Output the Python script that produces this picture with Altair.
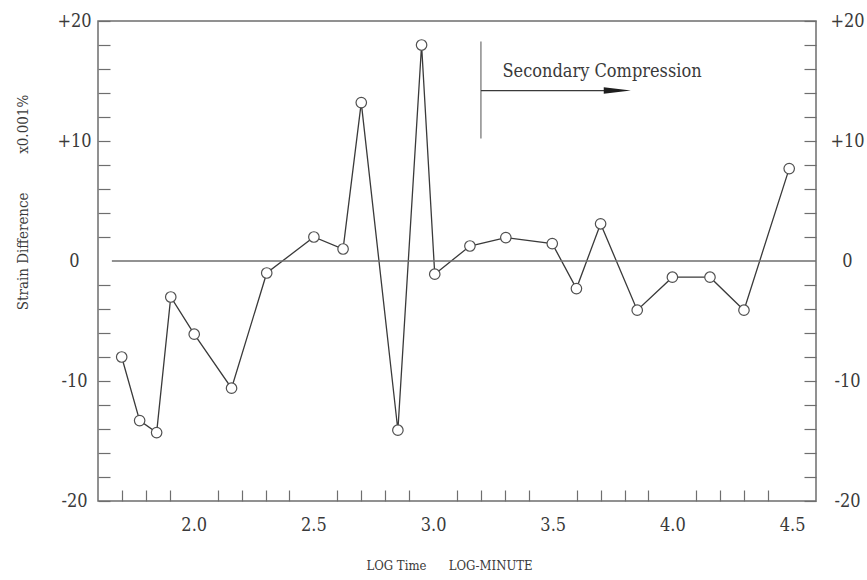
import altair as alt
import pandas as pd

# Log time (log10 minutes) and strain difference (x0.001 %)
log_time = [1.699, 1.774, 1.845, 1.904, 2.002, 2.158, 2.305, 2.502, 2.624, 2.700,
            2.853, 2.952, 3.007, 3.154, 3.304, 3.498, 3.599, 3.700, 3.853, 4.000,
            4.157, 4.299, 4.488]
strain_diff = [-8.0, -13.3, -14.3, -3.0, -6.1, -10.6, -1.0, 2.0, 1.0, 13.2,
               -14.1, 18.0, -1.1, 1.25, 1.95, 1.45, -2.3, 3.1, -4.1, -1.35,
               -1.35, -4.1, 7.7]

x_tick_values = [1.7, 1.8, 1.9, 2.0, 2.1, 2.2, 2.3, 2.4, 2.5, 2.6, 2.7, 2.8, 2.9,
                 3.0, 3.1, 3.2, 3.3, 3.4, 3.5, 3.6, 3.7, 3.8, 3.9, 4.0, 4.1, 4.2,
                 4.3, 4.4, 4.5]
y_tick_values = [-20, -18, -16, -14, -12, -10, -8, -6, -4, -2, 0,
                 2, 4, 6, 8, 10, 12, 14, 16, 18, 20]

x_domain = [1.6, 4.6]
y_domain = [-20, 20]

# Secondary compression marker: vertical bar, arrow and caption
marker_x = [3.2]
marker_y = [10.2]
marker_y2 = [18.3]
arrow_x = [3.2]
arrow_x2 = [3.77]
arrow_y = [14.2]
caption = ["Secondary Compression"]
caption_x = [3.29]
caption_y = [15.35]

NBSP = "\u00a0"
x_title = "LOG Time" + NBSP * 6 + "LOG-MINUTE"
y_title = "Strain Difference" + NBSP * 9 + "x0.001%"

FONT = "DejaVu Serif Condensed, Liberation Sans Narrow, Liberation Serif"
INK = "#3a3a3a"
FRAME = "#6e6e6e"

df = pd.DataFrame({"t": log_time, "d": strain_diff})

xs = alt.Scale(domain=x_domain, nice=False, zero=False)
ys = alt.Scale(domain=y_domain, nice=False, zero=False)

label_expr_y = ("datum.value % 10 == 0 ? (datum.value > 0 ? '+' + datum.value "
                ": '' + datum.value) : ''")
half_step = "abs(datum.value * 2 - round(datum.value * 2)) < 0.01"

x_axis = alt.Axis(
    values=x_tick_values, offset=-11, tickSize=11, tickWidth=1.2,
    tickColor=FRAME,
    tickOpacity={"condition": {"test": half_step, "value": 0}, "value": 1},
    labelExpr=half_step + " ? format(datum.value, '.1f') : ''",
    domain=False, grid=False, labelPadding=24, labelBaseline="middle",
    labelFontSize=18, labelColor=INK, labelFont=FONT,
    title=x_title, titleFont=FONT, titleFontSize=13,
    titleFontWeight="normal", titleColor=INK, titleX=351, titleY=75,
    titleAlign="center", titleBaseline="middle",
)

y_axis_left = alt.Axis(
    values=y_tick_values, offset=-12, tickSize=12, tickWidth=1.2, tickColor=FRAME,
    tickOpacity={"condition": {"test": "datum.value == 0", "value": 0}, "value": 1},
    labelExpr=label_expr_y, domain=False, grid=False, labelPadding=24,
    labelAlign="center", labelBaseline="middle", labelFontSize=18,
    labelColor=INK, labelFont=FONT,
    title=y_title, titleFont=FONT, titleFontSize=15,
    titleFontWeight="normal", titleColor=INK, titleAngle=270,
    titleX=-88, titleY=181, titleAlign="center", titleBaseline="middle",
)

y_axis_right = alt.Axis(
    orient="right", values=y_tick_values, offset=-12, tickSize=12, tickWidth=1.2,
    tickColor=FRAME,
    tickOpacity={"condition": {"test": "datum.value == 0", "value": 0}, "value": 1},
    labelExpr=label_expr_y, domain=False, grid=False, labelPadding=31,
    labelAlign="center", labelBaseline="middle", labelFontSize=18,
    labelColor=INK, labelFont=FONT, title=None,
)

base = alt.Chart(df)

line = base.mark_line(color=INK, strokeWidth=1.3).encode(
    x=alt.X("t:Q", scale=xs, axis=x_axis),
    y=alt.Y("d:Q", scale=ys, axis=y_axis_left),
)

points = base.mark_point(shape="circle", filled=True, fill="white", stroke="#505050",
                         strokeWidth=1.2, size=110, opacity=1).encode(
    x=alt.X("t:Q", scale=xs, axis=None),
    y=alt.Y("d:Q", scale=ys, axis=None),
)

zero_df = pd.DataFrame({"x": [1.658], "x2": [4.6], "y": [0]})
zero_line = alt.Chart(zero_df).mark_rule(color=FRAME, strokeWidth=1.3).encode(
    x=alt.X("x:Q", scale=xs, axis=None),
    x2="x2:Q",
    y=alt.Y("y:Q", scale=ys, axis=y_axis_right),
)

marker_df = pd.DataFrame({"x": marker_x, "y": marker_y, "y2": marker_y2})
marker = alt.Chart(marker_df).mark_rule(color=FRAME, strokeWidth=1.2).encode(
    x=alt.X("x:Q", scale=xs, axis=None),
    y=alt.Y("y:Q", scale=ys, axis=None),
    y2="y2:Q",
)

arrow_df = pd.DataFrame({"x": arrow_x, "x2": arrow_x2, "y": arrow_y})
arrow_shaft = alt.Chart(arrow_df).mark_rule(color=INK, strokeWidth=1.2).encode(
    x=alt.X("x:Q", scale=xs, axis=None),
    x2="x2:Q",
    y=alt.Y("y:Q", scale=ys, axis=None),
)
arrow_head = alt.Chart(arrow_df).mark_point(
    shape="M-1,-0.24L1,0L-1,0.24Z", filled=True, color="#1e1e1e", size=740, opacity=1
).encode(
    x=alt.X("x2:Q", scale=xs, axis=None),
    y=alt.Y("y:Q", scale=ys, axis=None),
)

caption_df = pd.DataFrame({"x": caption_x, "y": caption_y, "label": caption})
caption_text = alt.Chart(caption_df).mark_text(
    align="left", baseline="alphabetic", font=FONT, fontSize=18, color=INK
).encode(
    x=alt.X("x:Q", scale=xs, axis=None),
    y=alt.Y("y:Q", scale=ys, axis=None),
    text="label:N",
)

chart = alt.layer(
    line, zero_line, marker, arrow_shaft, arrow_head, caption_text, points
).resolve_axis(x="independent", y="independent").properties(
    width=718, height=480,
    autosize=alt.AutoSizeParams(type="none"),
    padding={"left": 98, "top": 21, "right": 51, "bottom": 79},
    background="white",
).configure_view(stroke=FRAME, strokeWidth=1.5)

chart.save("out.html", embed_options={"renderer": "svg", "actions": False})
